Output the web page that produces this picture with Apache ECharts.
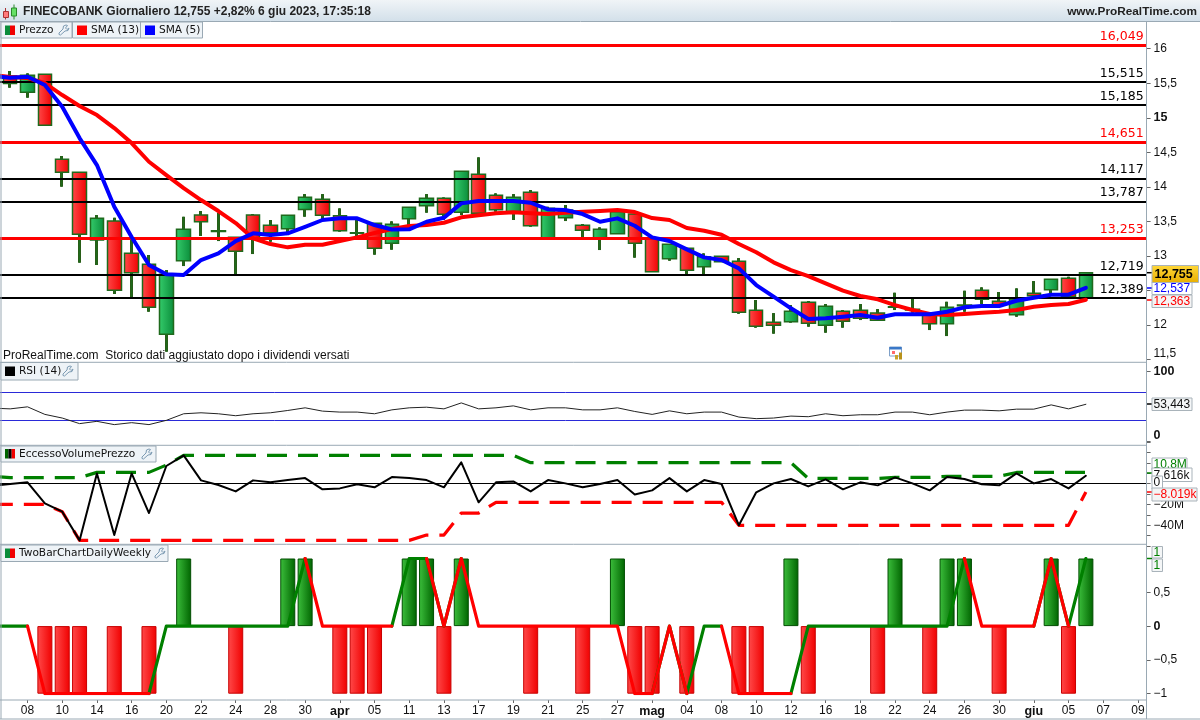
<!DOCTYPE html>
<html><head><meta charset="utf-8">
<style>html,body{margin:0;padding:0;background:#fff;overflow:hidden;width:1200px;height:720px}#c{width:1240px;height:720px;margin-left:-40px}</style>
<script src="https://cdn.jsdelivr.net/npm/echarts@6/dist/echarts.min.js"></script>
</head><body><div id="c"></div>
<script>
// ---- data ----
const dayLabels = ['06','07','08','09','10','13','14','15','16','17','20','21','22','23','24','27','28','29','30','31','apr','04','05','06','11','12','13','14','17','18','19','20','21','24','25','26','27','28','mag','03','04','05','08','09','10','11','12','15','16','17','18','19','22','23','24','25','26','29','30','31','giu','02','05','06','07','08','09'];
const monthLabels = ['apr','mag','giu'];
// open, close, low, high
const candles = [
['-','-','-','-'],
[15.604,15.498,15.435,15.677],[15.368,15.614,15.290,15.643],[15.629,14.890,14.890,15.629],[14.398,14.209,14.001,14.446],
[14.209,13.311,12.900,14.209],[13.229,13.543,12.867,13.591],[13.504,12.500,12.447,13.552],[13.036,12.755,12.399,13.229],
[12.877,12.254,12.190,13.012],[11.863,12.732,11.611,12.794],[12.929,13.384,12.852,13.566],[13.591,13.494,13.287,13.649],
[13.364,13.353,13.214,13.624],[13.268,13.065,12.736,13.272],[13.591,13.251,13.026,13.605],[13.442,13.335,13.204,13.519],
[13.393,13.587,13.301,13.587],[13.673,13.847,13.566,13.895],[13.818,13.587,13.519,13.895],[13.581,13.364,13.349,13.688],
[13.335,13.326,13.272,13.519],[13.471,13.109,13.016,13.471],[13.181,13.456,13.088,13.500],[13.537,13.702,13.446,13.702],
[13.726,13.833,13.624,13.895],[13.833,13.601,13.519,13.847],[13.630,14.224,13.591,14.224],[14.180,13.616,13.616,14.427],
[13.876,13.668,13.639,13.905],[13.639,13.847,13.519,13.895],[13.920,13.436,13.421,13.953],[13.262,13.688,13.262,13.711],
[13.552,13.663,13.504,13.736],[13.442,13.369,13.262,13.461],[13.253,13.384,13.084,13.413],[13.320,13.639,13.320,13.639],
[13.605,13.181,12.973,13.605],[13.243,12.770,12.770,13.243],[12.958,13.167,12.929,13.167],[13.109,12.790,12.722,13.109],
[12.842,12.987,12.722,13.036],[12.993,12.915,12.915,12.993],[12.920,12.182,12.161,12.968],[12.211,11.979,11.959,12.360],
[12.037,11.993,11.872,12.171],[12.046,12.196,12.031,12.287],[12.326,12.022,11.973,12.345],[11.993,12.269,11.886,12.302],
[12.196,12.051,11.959,12.215],[12.211,12.095,12.070,12.302],[12.172,12.066,12.066,12.229],[12.263,12.254,12.215,12.466],
[12.225,12.215,12.176,12.384],[12.143,12.017,11.925,12.186],[12.017,12.254,11.838,12.335],[12.287,12.277,12.190,12.495],
[12.500,12.370,12.302,12.544],[12.341,12.287,12.258,12.476],[12.147,12.374,12.118,12.529],[12.457,12.422,12.389,12.635],
[12.509,12.660,12.457,12.660],[12.674,12.408,12.408,12.697],[12.393,12.755,12.393,12.755]
];
const sma13 = [15.619,15.590,15.575,15.503,15.329,15.170,15.039,14.851,14.634,14.363,14.170,13.982,13.808,13.649,13.475,13.253,13.171,13.123,13.161,13.161,13.214,13.268,13.330,13.388,13.432,13.446,13.479,13.558,13.587,13.616,13.630,13.616,13.605,13.624,13.639,13.649,13.663,13.634,13.547,13.519,13.403,13.364,13.306,13.171,13.051,12.906,12.794,12.707,12.602,12.495,12.418,12.370,12.287,12.215,12.157,12.143,12.157,12.176,12.190,12.215,12.263,12.287,12.302,12.363];
const sma5 = [15.604,15.580,15.594,15.474,15.160,14.706,14.315,13.711,13.272,12.867,12.732,12.722,12.939,13.036,13.214,13.326,13.301,13.326,13.421,13.519,13.543,13.543,13.446,13.381,13.384,13.494,13.552,13.760,13.794,13.794,13.794,13.769,13.673,13.663,13.605,13.494,13.543,13.436,13.268,13.214,13.094,12.978,12.939,12.819,12.577,12.408,12.240,12.085,12.095,12.118,12.143,12.103,12.153,12.153,12.153,12.190,12.254,12.273,12.273,12.350,12.393,12.437,12.437,12.537];
const levelsRed = [16.049,14.651,13.253];
const levelsBlack = [15.515,15.185,14.117,13.787,12.719,12.389];
const rsi = [47.9,46.9,49.8,39.0,33.8,25.8,29.1,24.4,27.2,24.4,30.5,39.9,41.3,39.9,37.1,39.9,41.3,44.6,48.4,43.7,42.3,42.3,39.9,45.5,48.4,49.3,46.9,55.4,46.9,48.4,51.2,45.5,48.4,48.4,45.5,45.5,48.4,43.2,39.0,44.1,39.9,42.3,42.3,35.2,32.9,33.8,36.6,35.7,39.9,37.1,38.5,38.5,42.3,42.3,38.5,42.3,45.1,45.1,44.1,46.5,46.5,52.6,46.9,53.443];
const rsiBands = [70,30];
const volumeExcess = [-1.9,-0.3,1.3,-18.9,-26.9,-54.5,9.9,-49.4,9.9,-28.2,17,27.2,3.2,-1.3,-7.4,3.2,1.3,3.5,5.4,-5.4,-4.5,-0.6,-3.5,6.4,5.4,3.5,-3.5,20.5,-17.9,1.3,2.2,-7.4,3.5,0.3,-3.5,-0.3,3.5,-10.3,-6.4,5.4,-7.4,3.5,-0.3,-40,-8.3,0.3,4.5,-2.6,4.2,-5.4,1.3,-1.6,6.1,0.3,-6.4,6.4,4.5,-0.6,-1.6,9.9,0.3,4.5,-4.5,7.616];
const volumeUpper = [7,5.8,5.8,5.8,5.8,5.8,10.9,10.9,10.9,10.9,17.9,27.2,27.2,27.2,27.2,27.2,27.2,27.2,27.2,27.2,27.2,27.2,27.2,27.2,27.2,27.2,27.2,27.2,27.2,27.2,27.2,20.2,20.2,20.2,20.2,20.2,20.2,20.2,20.2,20.2,20.2,20.2,20.2,20.2,20.2,20.2,20.2,5.1,5.1,5.1,5.1,5.1,6.1,6.1,6.1,7.1,7.1,7.1,7.1,10.8,10.8,10.8,10.8,10.8];
const volumeLower = [-19.9,-19.9,-19.9,-19.9,-26.9,-54.5,-54.5,-54.5,-54.5,-54.5,-54.5,-54.5,-54.5,-54.5,-54.5,-54.5,-54.5,-54.5,-54.5,-54.5,-54.5,-54.5,-54.5,-54.5,-54.5,-49.4,-49.4,-28.2,-28.2,-17.9,-17.9,-17.9,-17.9,-17.9,-17.9,-17.9,-17.9,-17.9,-17.9,-17.9,-17.9,-17.9,-17.9,-40,-40,-40,-40,-40,-40,-40,-40,-40,-40,-40,-40,-40,-40,-40,-40,-40,-40,-40,-40,-8.019];
const twoBarBars = [null,null,null,-1,-1,-1,null,-1,null,-1,null,1,null,null,-1,null,null,1,1,null,-1,-1,-1,null,1,1,-1,1,null,null,null,-1,null,null,-1,null,1,-1,-1,null,-1,null,null,-1,-1,null,1,-1,null,null,null,-1,1,null,-1,1,1,null,-1,null,null,1,-1,1];
const twoBarLine = [0,0,0,-1,-1,-1,-1,-1,-1,-1,0,0,0,0,0,0,0,0,1,0,0,0,0,0,1,1,0,1,0,0,0,0,0,0,0,0,0,-1,-1,0,-1,0,0,-1,-1,-1,-1,0,0,0,0,0,0,0,0,0,1,0,0,0,0,1,0,1];
const twoBarRising = [1,1,1,0,0,0,0,0,0,0,1,1,1,1,1,1,1,1,1,0,0,0,0,0,1,1,0,1,0,0,0,0,0,0,0,0,0,0,0,1,0,1,1,0,0,0,0,1,1,1,1,1,1,1,1,1,1,0,0,0,0,1,0,1];
const titleText = 'FINECOBANK Giornaliero 12,755 +2,82% 6 giu 2023, 17:35:18';
const siteText = 'www.ProRealTime.com';
const noteText = 'ProRealTime.com  Storico dati aggiustato dopo i dividendi versati';

// ---- layout constants ----
const F = '"DejaVu Sans"', A = '"Liberation Sans"';
const SHIFT = 40;
const BAND = 17.35, PLOT_L = SHIFT - 15.85, PLOT_W = BAND * dayLabels.length;
const FR = '#9aa9b4';
const GREEN_BODY = {type:'linear',x:0,y:0,x2:1,y2:0,colorStops:[{offset:0,color:'#35cd6c'},{offset:1,color:'#0a8c3a'}]};
const RED_BODY = {type:'linear',x:0,y:0,x2:1,y2:0,colorStops:[{offset:0,color:'#ff4a4a'},{offset:1,color:'#f00000'}]};
const GREEN_BAR = {type:'linear',x:0,y:0,x2:1,y2:0,colorStops:[{offset:0,color:'#3cbf3c'},{offset:1,color:'#006400'}]};
const WICK = '#2c5a16';

const grids = [
  {top:14.2, height:345.2},
  {top:371.7, height:70},
  {top:442.1, height:104},
  {top:558.5, height:135.2}
].map(g => ({left:PLOT_L, width:PLOT_W, top:g.top, height:g.height, containLabel:false}));

const xAxes = grids.map((g,i) => ({
  type:'category', gridIndex:i, data:dayLabels, boundaryGap:true, show:i===3, offset:6.3,
  axisLine:{show:false,onZero:false},
  axisTick:{show:true, length:3, alignWithLabel:true, interval:(idx)=>idx%2===0, lineStyle:{color:'#666'}},
  axisLabel:{interval:(idx)=>idx%2===0, color:'#111', fontFamily:A, fontSize:12, margin:5,
    formatter:v=>monthLabels.includes(v)?`{b|${v}}`:v, rich:{b:{fontWeight:'bold',fontFamily:A,fontSize:12.5,color:'#111'}}},
  splitLine:{show:false}
}));

const yBase = {type:'value', position:'right', splitLine:{show:false}, axisLine:{show:false},
  axisTick:{show:true,length:4,lineStyle:{color:'#666'}},
  axisLabel:{color:'#111',fontFamily:A,fontSize:12,margin:7,rich:{b:{fontWeight:'bold',fontFamily:A,fontSize:12.5,color:'#111'}}}};
const comma = v => String(v).replace('.',',').replace('-','\u2212');
const yAxes = [
 {...yBase,gridIndex:0,min:11.5,max:16.5,interval:0.5,
   axisLabel:{...yBase.axisLabel,verticalAlignMinLabel:'bottom',formatter:v=>v===16.5?'':(v===15?'{b|15}':comma(v))}},
 {...yBase,gridIndex:1,min:0,max:100,interval:100,
   axisLabel:{...yBase.axisLabel,verticalAlignMinLabel:'bottom',formatter:v=>`{b|${v}}`}},
 {...yBase,gridIndex:2,min:-60,max:40,interval:10,
   axisLabel:{...yBase.axisLabel,formatter:v=>(v===-40||v===-20)?('\u2212'+(-v)+'M'):(v===0?'0':'')}},
 {...yBase,gridIndex:3,min:-1,max:1,interval:0.5,
   axisLabel:{...yBase.axisLabel,formatter:v=>v===1?'':(v===0?'{b|0}':comma(v))}}
];

const levelLines = (vals,color,width) => ({
  type:'line', xAxisIndex:0, yAxisIndex:0, data:[], z:4, silent:true,
  markLine:{silent:true, symbol:'none', animation:false, precision:3,
    lineStyle:{color,width,type:'solid'},
    label:{position:'insideEndTop', distance:[3,2], color, fontFamily:F, fontSize:12.5, fontWeight:'normal',
      formatter:p=>p.value.toFixed(3).replace('.',',')},
    data:vals.map(v=>({yAxis:v}))}
});
const lineS = (x,data,color,width,extra={}) => ({type:'line',xAxisIndex:x,yAxisIndex:x,data,showSymbol:false,symbol:'none',
  animation:false,silent:true,connectNulls:false,lineStyle:{color,width,join:'round',cap:'round',...(extra.ls||{})},z:extra.z||5});

const series = [
  {type:'candlestick',xAxisIndex:0,yAxisIndex:0,data:candles,barWidth:1,z:2,silent:true,animation:false,
    itemStyle:{color:WICK,color0:WICK,borderColor:WICK,borderColor0:WICK,borderColorDoji:WICK,borderWidth:3}},
  {type:'candlestick',xAxisIndex:0,yAxisIndex:0,data:candles,barWidth:14,z:3,silent:true,animation:false,
    itemStyle:{color:GREEN_BODY,color0:RED_BODY,borderColor:'#1f6a1c',borderColor0:'#1f6a1c',borderColorDoji:WICK,borderWidth:1.5}},
  levelLines(levelsBlack,'#000',2),
  levelLines(levelsRed,'#ff0000',3),
  lineS(0,sma13,'#ff0000',4,{z:6}),
  lineS(0,sma5,'#0000ff',4,{z:7}),

  {...lineS(1,rsi,'#222',1),markLine:{silent:true,symbol:'none',animation:false,label:{show:false},
     lineStyle:{color:'#2a2ad8',width:1,type:'solid'},data:rsiBands.map(v=>({yAxis:v}))}},

  {...lineS(2,volumeUpper,'#008000',3.2,{ls:{type:[20,11],cap:'butt'}})},
  {...lineS(2,volumeLower,'#ff0000',3.2,{ls:{type:[20,11],cap:'butt'}})},
  {...lineS(2,volumeExcess,'#000',2,{z:6}),markLine:{silent:true,symbol:'none',animation:false,label:{show:false},
     lineStyle:{color:'#000',width:1,type:'solid'},data:[{yAxis:0}]}},

  {type:'bar',xAxisIndex:3,yAxisIndex:3,barWidth:15,animation:false,silent:true,z:2,
    data:twoBarBars.map(v=>v===null?null:{value:v,itemStyle:v>0?{color:GREEN_BAR,borderColor:'#004d00',borderWidth:1}:{color:RED_BODY,borderColor:'#c80000',borderWidth:1}})},
  lineS(3,twoBarLine.map((v,i)=>(twoBarRising[i]===1||twoBarRising[i+1]===1)?v:null),'#008000',3.2),
  lineS(3,twoBarLine.map((v,i)=>(twoBarRising[i]===0||twoBarRising[i+1]===0)?v:null),'#ff0000',3.2)
];

// ---- chrome ----
const Z = 50;
const rect=(x,y,w,h,fill,stroke,z)=>({type:'rect',z:z||Z,silent:true,shape:{x,y,width:w,height:h},style:{fill:fill||'none',stroke:stroke||null,lineWidth:1}});
const hline=(x1,x2,y,c,w,z)=>({type:'line',z:z||Z,silent:true,shape:{x1,y1:y,x2,y2:y},style:{stroke:c||FR,lineWidth:w||1}});
const vline=(x,y1,y2,c,w)=>({type:'line',z:Z,silent:true,shape:{x1:x,y1,x2:x,y2},style:{stroke:c||FR,lineWidth:w||1}});
const txt=(x,y,t,o={})=>({type:'text',z:o.z||Z+2,silent:true,x,y,style:{text:t,fill:o.fill||'#111',font:o.font||`12px ${F}`,verticalAlign:'middle',align:o.align||'left'}});
const WR=[[8,1],[5.5,2],[5,5],[1,9],[1,10.5],[2.5,11],[7,7],[10,6.5],[11,4],[9,5.5],[7.5,4],[9.5,1.5],[8,1]];
const wrench=(x,y)=>({type:'polyline',z:Z+2,silent:true,shape:{points:WR.map(p=>[p[0]+x,p[1]+y])},style:{fill:'none',stroke:'#7d9bb3',lineWidth:1}});
const button=(x,y,w,h)=>rect(x,y,w,h,'#eef3f7',FR,Z+1);
const sq=(x,y,c,w)=>rect(x,y,w||10,9.5,c,null,Z+2);
const valueBox=(x,y,w,h,t,color,bg,z,bold)=>[
  {type:'rect',z,silent:true,shape:{x,y,width:w,height:h},style:{fill:bg,stroke:'#a9b3ba',lineWidth:1}},
  {type:'text',z:z+1,silent:true,x:x+(bold?2.5:1.5),y:y+h/2+0.5,style:{text:t,fill:color,font:`${bold?'bold 12.5px':'12px'} ${A}`,verticalAlign:'middle'}}
];
const GOLD={type:'linear',x:0,y:0,x2:0,y2:1,colorStops:[{offset:0,color:'#ffd83a'},{offset:1,color:'#e8ae00'}]};
const TITLEBG={type:'linear',x:0,y:0,x2:0,y2:1,colorStops:[{offset:0,color:'#f0f4f7'},{offset:1,color:'#d3e0ea'}]};
const LEG=`10.6px ${F}`;

const graphic = [
  rect(-40,0,1280,21,TITLEBG,null,Z), hline(-40,1240,21.5,FR),
  // title icon
  vline(5.5,8,19.5,'#a33',1), rect(3.5,11.5,5,6,'#ff7b7b','#a33',Z+1),
  vline(14,4.5,19.5,'#2a8a2a',1), rect(11.5,8,5,8,'#66e066','#2a8a2a',Z+1),
  txt(23,12,titleText,{font:`bold 12px ${A}`,fill:'#222'}),
  txt(1197,12,siteText,{font:`bold 11.8px ${A}`,fill:'#222',align:'right'}),
  // legend price
  button(1,22,71,16), sq(5,25.5,'#0a8c3a',5), sq(10,25.5,'#f00000',5), txt(19,30.5,'Prezzo',{font:LEG}), wrench(58,24),
  button(72.5,22,68,16), sq(77,25.5,'#ff0000'), txt(91,30.5,'SMA (13)',{font:LEG}),
  button(140.5,22,62,16), sq(145,25.5,'#0000ff'), txt(159,30.5,'SMA (5)',{font:LEG}),
  // panel frames
  hline(0,1146.5,362.3), hline(0,1146.5,445.3), hline(0,1146.5,544.3), hline(0,1146.5,700), hline(0,1240,719),
  vline(1,21,719), vline(1146.5,21,719),
  // note
  txt(3,355.5,noteText,{font:`12px ${A}`,fill:'#111'}),
  // calendar icon
  rect(889.5,347,12,9,'#fff','#7fa0c8',Z+1), rect(889.5,347,12,2.5,'#3a78c8',null,Z+2), rect(892,351,3,3,'#ff6a6a',null,Z+2),
  rect(895,355,3,4.5,'#c9a227',null,Z+2), rect(899,352.5,3,7,'#b8921a',null,Z+2),
  // RSI legend
  button(1,362.5,77,17.5), sq(5,366.5,'#000'), txt(19,371.5,'RSI (14)',{font:LEG}), wrench(62,365),
  // EVP legend
  button(1,446,155,16), sq(5,449,'#006400',3.4), sq(8.4,449,'#000',3.3), sq(11.7,449,'#f00000',3.3), txt(19,454.5,'EccessoVolumePrezzo',{font:LEG}), wrench(141,448),
  // TwoBar legend
  button(1,545,167,16.5), sq(5,548.5,'#0a8c3a',5), sq(10,548.5,'#f00000',5), txt(19,553.5,'TwoBarChartDailyWeekly',{font:LEG}), wrench(154,547),
  // value markers
  hline(1147,1152,272.7,'#000',1.5), hline(1147,1152,288,'#0000ff',1.5), hline(1147,1152,300,'#ff0000',1.5),
  hline(1147,1152,404,'#000',1.5), hline(1147,1152,473,'#008000',1.5), hline(1147,1152,492,'#ff0000',1.5), hline(1147,1152,558.5,'#008000',1.5),
  ...valueBox(1152,265.5,46.5,17,'12,755','#000',GOLD,Z+6,true),
  ...valueBox(1152,282,40,12.5,'12,537','#0000ff','#fff',Z+4),
  ...valueBox(1152,295,40,12.5,'12,363','#ff0000','#f4f4f4',Z+4),
  ...valueBox(1152,398,40,12.5,'53,443','#111','#f4f6f7',Z+4),
  ...valueBox(1152,458,35,12,'10.8M','#008000','#fff',Z+4),
  ...valueBox(1152,468,40,13.5,'7.616k','#111','#fff',Z+6),
  ...valueBox(1152,476,10.5,13,'0','#111','#fff',Z+8),
  ...valueBox(1152,488,45,13,'\u22128.019k','#ff0000','#f4f4f4',Z+10),
  ...valueBox(1152,546.5,10.5,11.5,'1','#008000','#f4f6f7',Z+4),
  ...valueBox(1152,559,10.5,12.5,'1','#008000','#f4f6f7',Z+6)
];

const chart = echarts.init(document.getElementById('c'),null,{renderer:'canvas',width:1240,height:720});
chart.setOption({animation:false,backgroundColor:'#fff',grid:grids,xAxis:xAxes,yAxis:yAxes,series,graphic:{elements:[{type:'group',x:SHIFT,y:0,children:graphic}]}});
</script>
</body></html>
